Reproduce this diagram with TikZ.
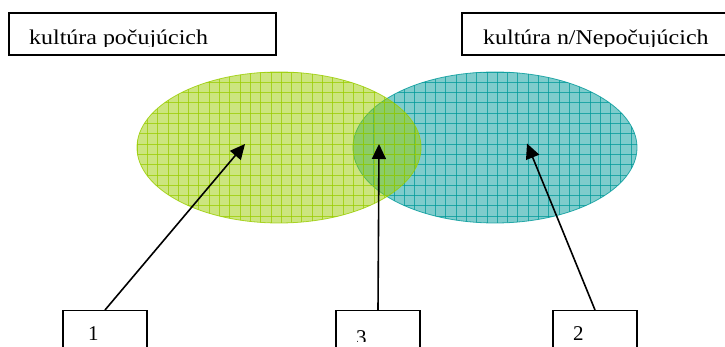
\documentclass[tikz,border=0pt]{standalone}
\usepackage{fontspec}
\setmainfont{Liberation Serif}
\usetikzlibrary{arrows.meta}
\definecolor{lgreen}{HTML}{99CC00}
\definecolor{lteal}{HTML}{009999}
\tikzset{
  box/.style={draw=black,line width=1.4pt,rectangle,inner sep=0pt},
  lbl/.style={anchor=base west,inner sep=0pt,font=\fontsize{21}{23}\selectfont},
  ptr/.style={line width=1.6pt,-{Triangle[length=15pt,width=14pt]}},
  gridline/.style={line width=0.8pt,opacity=.75},
}
\begin{document}
\begin{tikzpicture}[x=1pt,y=-1pt]
\useasboundingbox (0,0) rectangle (725,347);
\clip (0,0) rectangle (725,347);
% teal ellipse
\fill[lteal,opacity=.5] (495,147.5) ellipse [x radius=142,y radius=75.5];
\begin{scope}
  \clip (495,147.5) ellipse [x radius=142,y radius=75.5];
  \foreach \i in {0,...,28} \draw[gridline,lteal] (353+\i*10.3,70) -- ++(0,160);
  \foreach \i in {0,...,15} \draw[gridline,lteal] (350,72+\i*10.3) -- ++(290,0);
\end{scope}
\draw[lteal,line width=0.8pt,opacity=.8] (495,147.5) ellipse [x radius=142,y radius=75.5];
% green ellipse
\fill[lgreen,opacity=.5] (279,147.5) ellipse [x radius=142,y radius=75.5];
\begin{scope}
  \clip (279,147.5) ellipse [x radius=142,y radius=75.5];
  \foreach \i in {0,...,28} \draw[gridline,lgreen] (137+\i*10.3,70) -- ++(0,160);
  \foreach \i in {0,...,15} \draw[gridline,lgreen] (134,72+\i*10.3) -- ++(290,0);
\end{scope}
\draw[lgreen,line width=0.8pt,opacity=.8] (279,147.5) ellipse [x radius=142,y radius=75.5];
% boxes
\node[box,minimum width=267pt,minimum height=42pt] (tl) at (142.5,34) {};
\node[box,minimum width=298pt,minimum height=42pt] (tr) at (611,34) {};
\node[box,minimum width=84pt,minimum height=60pt] (b1) at (105,340.7) {};
\node[box,minimum width=84pt,minimum height=60pt] (b3) at (378,340.7) {};
\node[box,minimum width=84pt,minimum height=60pt] (b2) at (595,340.7) {};
% labels (clipped like the reference)
\begin{scope}
  \clip (0,0) rectangle (725,46.3);
  \node[lbl] (tltext) at (29,44.8) {\scalebox{1.14}[1]{kultúra počujúcich}};
  \node[lbl] (trtext) at (483,44.8) {\scalebox{1.14}[1]{kultúra n/Nepočujúcich}};
\end{scope}
\begin{scope}
  \clip (0,300) rectangle (725,341.5);
  \node[lbl] (l1) at (88,340) {1};
  \node[lbl] (l3) at (356,344) {3};
  \node[lbl] (l2) at (573,340) {2};
\end{scope}
% arrows
\coordinate (t1) at (245,144);
\coordinate (t3) at (379,144);
\coordinate (t2) at (527,143.5);
\draw[ptr] (b1.north) -- (t1);
\draw[ptr] (b3.north) -- (t3);
\draw[ptr] (b2.north) -- (t2);
\end{tikzpicture}
\end{document}
